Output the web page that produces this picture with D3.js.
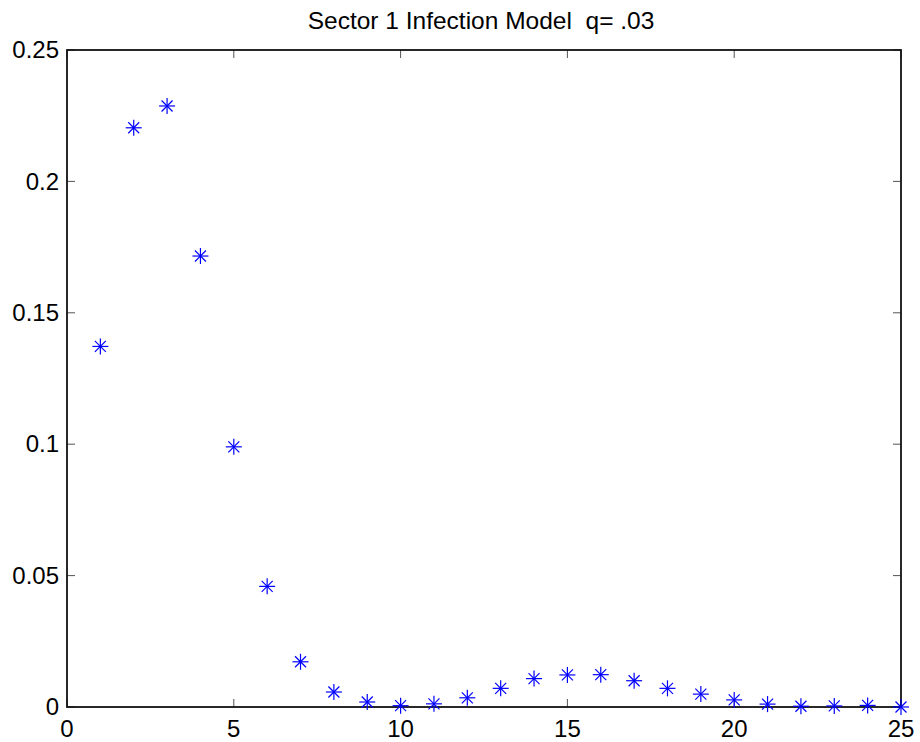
<!DOCTYPE html>
<html>
<head>
<meta charset="utf-8">
<script src="https://cdnjs.cloudflare.com/ajax/libs/d3/7.8.5/d3.min.js"></script>
<style>
  html, body { margin: 0; padding: 0; background: #fff; }
  svg { display: block; }
  text { font-family: "Liberation Sans", Arial, sans-serif; fill: #000; white-space: pre; }
</style>
</head>
<body>
<script>
const titleText = "Sector 1 Infection Model  q= .03";
const steps = [1,2,3,4,5,6,7,8,9,10,11,12,13,14,15,16,17,18,19,20,21,22,23,24,25];
const infected = [0.1372,0.2204,0.2287,0.1716,0.0990,0.0459,0.0172,0.0057,0.0019,0.0005,
                  0.0012,0.0035,0.0071,0.0108,0.0122,0.0123,0.0100,0.0071,0.0049,0.0027,
                  0.0011,0.0003,0.0004,0.0006,0.0000];
const xTicks = [0,5,10,15,20,25];
const yTicks = [0,0.05,0.1,0.15,0.2,0.25];
const yTickLabels = ["0","0.05","0.1","0.15","0.2","0.25"];

const W = 920, H = 742;
const pLeft = 67, pRight = 901, pTop = 50, pBottom = 707;

const svg = d3.select("body").append("svg").attr("width", W).attr("height", H);

const x = d3.scaleLinear().domain([0,25]).range([pLeft,pRight]);
const y = d3.scaleLinear().domain([0,0.25]).range([pBottom,pTop]);

const tickLen = 8;
const tickColor = "#555";

// ticks on all four sides
const g = svg.append("g");
xTicks.forEach(t => {
  g.append("line").attr("x1", x(t)).attr("x2", x(t)).attr("y1", pBottom).attr("y2", pBottom - tickLen)
    .attr("stroke", tickColor).attr("stroke-width", 1);
  g.append("line").attr("x1", x(t)).attr("x2", x(t)).attr("y1", pTop).attr("y2", pTop + tickLen)
    .attr("stroke", tickColor).attr("stroke-width", 1);
});
yTicks.forEach(t => {
  g.append("line").attr("x1", pLeft).attr("x2", pLeft + tickLen).attr("y1", y(t)).attr("y2", y(t))
    .attr("stroke", tickColor).attr("stroke-width", 1);
  g.append("line").attr("x1", pRight).attr("x2", pRight - tickLen).attr("y1", y(t)).attr("y2", y(t))
    .attr("stroke", tickColor).attr("stroke-width", 1);
});

// box
svg.append("rect").attr("x", pLeft).attr("y", pTop).attr("width", pRight-pLeft).attr("height", pBottom-pTop)
  .attr("fill", "none").attr("stroke", "#111").attr("stroke-width", 1.8);

// tick labels
svg.append("g").selectAll("text").data(xTicks).join("text")
  .attr("x", d => x(d)).attr("y", pBottom + 30)
  .attr("text-anchor", "middle").attr("font-size", 24)
  .text(d => d);
svg.append("g").selectAll("text").data(yTicks).join("text")
  .attr("x", pLeft - 8).attr("y", d => y(d))
  .attr("dy", "0.34em")
  .attr("text-anchor", "end").attr("font-size", 24)
  .text((d,i) => yTickLabels[i]);

// title
svg.append("text").attr("x", (pLeft+pRight)/2 - 3).attr("y", 29)
  .attr("text-anchor", "middle").attr("font-size", 24.5)
  .attr("xml:space", "preserve")
  .text(titleText);

// asterisk markers
const pts = svg.append("g").selectAll("g").data(steps.map((s,i)=>({s, v: infected[i]}))).join("g")
  .attr("transform", d => `translate(${x(d.s)},${y(d.v)})`)
  .attr("stroke", "#0000ff").attr("stroke-width", 1.2);
const a = 8, b = 5.5;
pts.append("line").attr("x1", -a).attr("x2", a).attr("y1", 0).attr("y2", 0);
pts.append("line").attr("x1", 0).attr("x2", 0).attr("y1", -a).attr("y2", a);
pts.append("line").attr("x1", -b).attr("x2", b).attr("y1", -b).attr("y2", b);
pts.append("line").attr("x1", -b).attr("x2", b).attr("y1", b).attr("y2", -b);
</script>
</body>
</html>
